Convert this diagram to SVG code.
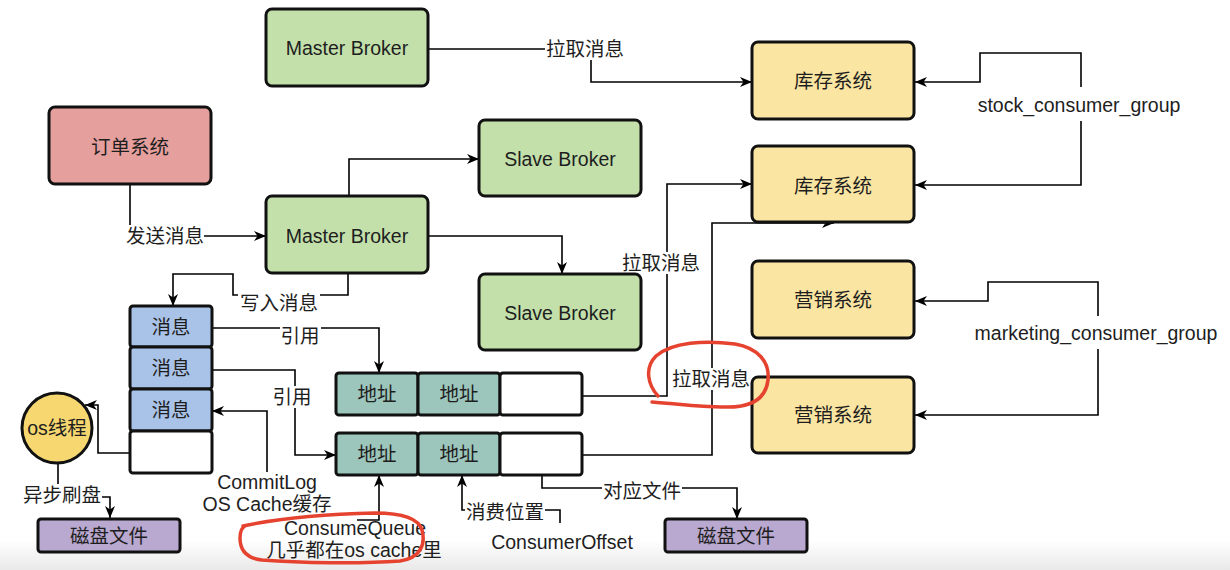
<svg xmlns="http://www.w3.org/2000/svg" width="1230" height="570" viewBox="0 0 1230 570">
<defs>
<linearGradient id="bg" x1="0" y1="0" x2="0" y2="1">
<stop offset="0" stop-color="#ffffff"/>
<stop offset="1" stop-color="#e9e9e9"/>
</linearGradient>
<marker id="arr" markerUnits="userSpaceOnUse" markerWidth="13" markerHeight="11" refX="12" refY="5.5" orient="auto">
<path d="M0,0.5 L12,5.5 L0,10.5 L3.5,5.5 Z" fill="#000"/>
</marker>
<style>
text{font-family:"Liberation Sans","Noto Sans CJK SC",sans-serif;font-size:19.5px;fill:#1e1e1e;text-anchor:middle;dominant-baseline:central}
.node{stroke:#111;stroke-width:3}
.green{fill:#c3e0ab}
.yellow{fill:#fae5a2}
.blue{fill:#a9c3e8}
.teal{fill:#9cc5bb}
.purple{fill:#b9a8cf}
.white{fill:#fff}
.edge{fill:none;stroke:#000;stroke-width:1.6}
.lbg{fill:#fff}
.red{fill:none;stroke:#e5432f;stroke-width:3.5;stroke-linecap:round;stroke-linejoin:round}
</style>
</defs>
<rect x="0" y="0" width="1230" height="570" fill="#fff"/>
<rect x="0" y="540" width="1230" height="30" fill="url(#bg)"/>

<g id="connectors">
<path class="edge" d="M130 184 V236 H266" marker-end="url(#arr)"/>
<path class="edge" d="M428 49 H591 V82 H752" marker-end="url(#arr)"/>
<path class="edge" d="M349 196 V159 H479" marker-end="url(#arr)"/>
<path class="edge" d="M428 236 H562 V274" marker-end="url(#arr)"/>
<path class="edge" d="M348 273 V295 H233 V274 H173 V306" marker-end="url(#arr)"/>
<path class="edge" d="M212 328 H379 V373" marker-end="url(#arr)"/>
<path class="edge" d="M212 370 H295 V455 H336" marker-end="url(#arr)"/>
<path class="edge" d="M267 472 V411 H212" marker-end="url(#arr)"/>
<path class="edge" d="M130 453 H98 V405 H85" marker-end="url(#arr)"/>
<path class="edge" d="M58 463 V497 H110 V518" marker-end="url(#arr)"/>
<path class="edge" d="M357 520 H379 V475" marker-end="url(#arr)"/>
<path class="edge" d="M560 523 V510 H462 V475" marker-end="url(#arr)"/>
<path class="edge" d="M542 475 V488 H737 V519" marker-end="url(#arr)"/>
<path class="edge" d="M582 396 H667 V184 H752" marker-end="url(#arr)"/>
<path class="edge" d="M582 455 H712 V223 H834" marker-end="url(#arr)"/>
<path class="edge" d="M1081 87 V53 H980 V82 H915" marker-end="url(#arr)"/>
<path class="edge" d="M1081 121 V185 H915" marker-end="url(#arr)"/>
<path class="edge" d="M1098 316 V282 H988 V301 H915" marker-end="url(#arr)"/>
<path class="edge" d="M1098 349 V415 H915" marker-end="url(#arr)"/>

<rect class="lbg" x="126" y="225" width="78" height="22"/>
<text x="165" y="236">发送消息</text>
<rect class="lbg" x="545" y="38" width="80" height="22"/>
<text x="585" y="49">拉取消息</text>
<rect class="lbg" x="238" y="291" width="82" height="24"/>
<text x="279" y="303">写入消息</text>
<rect class="lbg" x="280" y="324" width="41" height="23"/>
<text x="300" y="336">引用</text>
<rect class="lbg" x="271" y="386" width="42" height="22"/>
<text x="292" y="397">引用</text>
<rect class="lbg" x="22" y="484" width="80" height="22"/>
<text x="62" y="495">异步刷盘</text>
<rect class="lbg" x="465" y="501" width="80" height="22"/>
<text x="505" y="512">消费位置</text>
<rect class="lbg" x="602" y="480" width="80" height="22"/>
<text x="642" y="491">对应文件</text>
<rect class="lbg" x="621" y="252" width="80" height="22"/>
<text x="661" y="263">拉取消息</text>
<rect class="lbg" x="671" y="368" width="80" height="22"/>
<text x="711" y="379">拉取消息</text>
<text x="1079" y="105">stock_consumer_group</text>
<text x="1096" y="333">marketing_consumer_group</text>
<text x="267" y="482">CommitLog</text>
<text x="267" y="504">OS Cache缓存</text>
<text x="355" y="528">ConsumeQueue</text>
<text x="354" y="550">几乎都在os cache里</text>
<text x="562" y="542">ConsumerOffset</text>
</g>

<g id="master-broker-1"><rect class="node green" x="266" y="9" width="162" height="77" rx="6"/><text x="347" y="48">Master Broker</text></g>
<g id="order-system"><rect class="node" fill="#e59f9c" x="49" y="107" width="162" height="77" rx="6"/><text x="130" y="147">订单系统</text></g>
<g id="master-broker-2"><rect class="node green" x="266" y="196" width="162" height="77" rx="6"/><text x="347" y="236">Master Broker</text></g>
<g id="slave-broker-1"><rect class="node green" x="479" y="120" width="162" height="76" rx="6"/><text x="560" y="159">Slave Broker</text></g>
<g id="slave-broker-2"><rect class="node green" x="479" y="274" width="162" height="76" rx="6"/><text x="560" y="313">Slave Broker</text></g>
<g id="stock-1"><rect class="node yellow" x="752" y="42" width="162" height="77" rx="6"/><text x="833" y="81">库存系统</text></g>
<g id="stock-2"><rect class="node yellow" x="752" y="146" width="162" height="76" rx="6"/><text x="833" y="186">库存系统</text></g>
<g id="marketing-1"><rect class="node yellow" x="752" y="261" width="162" height="77" rx="6"/><text x="833" y="300">营销系统</text></g>
<g id="marketing-2"><rect class="node yellow" x="752" y="377" width="162" height="76" rx="6"/><text x="833" y="415">营销系统</text></g>

<g id="commitlog">
<rect class="node blue" x="130" y="306" width="82" height="41" rx="3"/><text x="171" y="327">消息</text>
<rect class="node blue" x="130" y="347" width="82" height="42" rx="3"/><text x="171" y="368">消息</text>
<rect class="node blue" x="130" y="389" width="82" height="42" rx="3"/><text x="171" y="410">消息</text>
<rect class="node white" x="130" y="431" width="82" height="42" rx="3"/>
</g>

<g id="consumequeue-1">
<rect class="node teal" x="336" y="373" width="82" height="42" rx="3"/><text x="377" y="394">地址</text>
<rect class="node teal" x="418" y="373" width="82" height="42" rx="3"/><text x="459" y="394">地址</text>
<rect class="node white" x="500" y="373" width="82" height="42" rx="3"/>
</g>
<g id="consumequeue-2">
<rect class="node teal" x="336" y="433" width="82" height="42" rx="3"/><text x="377" y="454">地址</text>
<rect class="node teal" x="418" y="433" width="82" height="42" rx="3"/><text x="459" y="454">地址</text>
<rect class="node white" x="500" y="433" width="82" height="42" rx="3"/>
</g>

<g id="os-thread"><circle class="node" fill="#f7d870" cx="57" cy="428" r="35"/><text x="57" y="428">os线程</text></g>
<g id="disk-1"><rect class="node purple" x="38" y="519" width="142" height="33" rx="3"/><text x="109" y="536">磁盘文件</text></g>
<g id="disk-2"><rect class="node purple" x="665" y="519" width="142" height="33" rx="3"/><text x="736" y="536">磁盘文件</text></g>

<g id="annotations">
<path class="red" d="M658 396 C648 385 644 368 656 356 C672 342 705 340 735 344 C758 348 770 362 768 380 C766 398 752 407 728 407 C705 408 680 404 652 402"/>
<path class="red" d="M243 526 C280 518 330 514 375 513 C400 513 418 517 422 530 C426 545 420 558 400 561 C360 564 300 563 262 560 C244 558 240 548 240 538 C240 532 241 528 245 526"/>
</g>
</svg>
